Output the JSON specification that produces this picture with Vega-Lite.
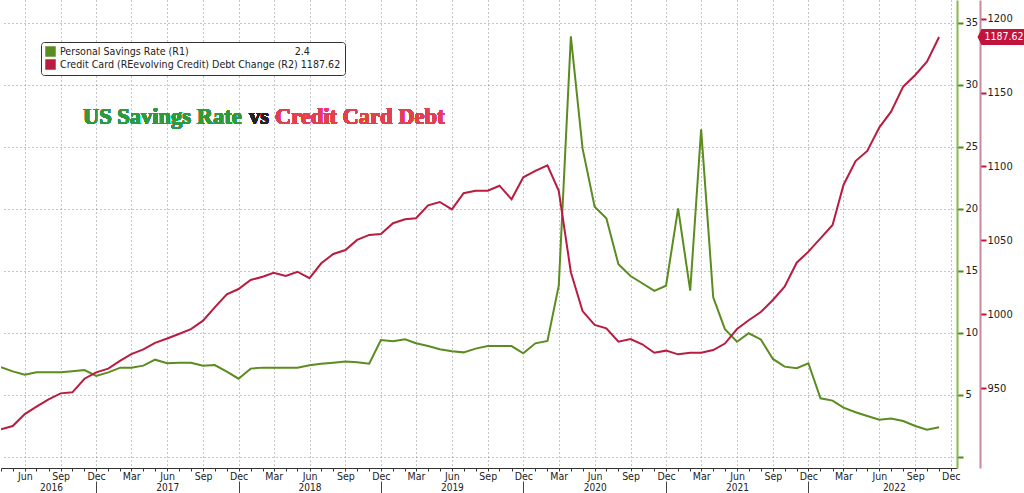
{
  "$schema": "https://vega.github.io/schema/vega-lite/v6.json",
  "width": 956,
  "height": 468,
  "padding": 0,
  "background": "white",
  "config": {
    "view": {"stroke": null},
    "font": "DejaVu Sans Condensed, DejaVu Sans",
    "axis": {"labelFont": "DejaVu Sans Condensed, DejaVu Sans", "labelColor": "#222", "labelFontSize": 11}
  },
  "data": {
    "values": [
      {"date": "2016-04-01", "rate": 7.23, "credit": 922.2},
      {"date": "2016-05-01", "rate": 6.9, "credit": 924.4},
      {"date": "2016-06-01", "rate": 6.63, "credit": 932.5},
      {"date": "2016-07-01", "rate": 6.82, "credit": 937.5},
      {"date": "2016-08-01", "rate": 6.82, "credit": 942.5},
      {"date": "2016-09-01", "rate": 6.82, "credit": 946.5},
      {"date": "2016-10-01", "rate": 6.9, "credit": 947.2},
      {"date": "2016-11-01", "rate": 7.0, "credit": 956.4},
      {"date": "2016-12-01", "rate": 6.53, "credit": 960.7},
      {"date": "2017-01-01", "rate": 6.82, "credit": 963.2},
      {"date": "2017-02-01", "rate": 7.2, "credit": 968.6},
      {"date": "2017-03-01", "rate": 7.2, "credit": 973.1},
      {"date": "2017-04-01", "rate": 7.36, "credit": 976.3},
      {"date": "2017-05-01", "rate": 7.84, "credit": 980.7},
      {"date": "2017-06-01", "rate": 7.55, "credit": 983.6},
      {"date": "2017-07-01", "rate": 7.6, "credit": 986.7},
      {"date": "2017-08-01", "rate": 7.6, "credit": 990.0},
      {"date": "2017-09-01", "rate": 7.36, "credit": 995.7},
      {"date": "2017-10-01", "rate": 7.41, "credit": 1004.7},
      {"date": "2017-11-01", "rate": 6.88, "credit": 1013.5},
      {"date": "2017-12-01", "rate": 6.31, "credit": 1017.1},
      {"date": "2018-01-01", "rate": 7.12, "credit": 1023.2},
      {"date": "2018-02-01", "rate": 7.2, "credit": 1025.4},
      {"date": "2018-03-01", "rate": 7.2, "credit": 1028.1},
      {"date": "2018-04-01", "rate": 7.2, "credit": 1025.9},
      {"date": "2018-05-01", "rate": 7.2, "credit": 1028.8},
      {"date": "2018-06-01", "rate": 7.39, "credit": 1024.4},
      {"date": "2018-07-01", "rate": 7.52, "credit": 1034.5},
      {"date": "2018-08-01", "rate": 7.6, "credit": 1040.8},
      {"date": "2018-09-01", "rate": 7.7, "credit": 1043.5},
      {"date": "2018-10-01", "rate": 7.63, "credit": 1050.3},
      {"date": "2018-11-01", "rate": 7.52, "credit": 1053.7},
      {"date": "2018-12-01", "rate": 9.43, "credit": 1054.3},
      {"date": "2019-01-01", "rate": 9.32, "credit": 1061.6},
      {"date": "2019-02-01", "rate": 9.48, "credit": 1064.3},
      {"date": "2019-03-01", "rate": 9.16, "credit": 1065.0},
      {"date": "2019-04-01", "rate": 8.94, "credit": 1073.7},
      {"date": "2019-05-01", "rate": 8.68, "credit": 1076.0},
      {"date": "2019-06-01", "rate": 8.52, "credit": 1071.0},
      {"date": "2019-07-01", "rate": 8.43, "credit": 1081.9},
      {"date": "2019-08-01", "rate": 8.73, "credit": 1083.6},
      {"date": "2019-09-01", "rate": 8.94, "credit": 1083.6},
      {"date": "2019-10-01", "rate": 8.94, "credit": 1087.0},
      {"date": "2019-11-01", "rate": 8.94, "credit": 1077.8},
      {"date": "2019-12-01", "rate": 8.35, "credit": 1092.7},
      {"date": "2020-01-01", "rate": 9.16, "credit": 1097.0},
      {"date": "2020-02-01", "rate": 9.35, "credit": 1100.8},
      {"date": "2020-03-01", "rate": 13.8, "credit": 1083.6},
      {"date": "2020-04-01", "rate": 33.9, "credit": 1028.5},
      {"date": "2020-05-01", "rate": 24.87, "credit": 1002.2},
      {"date": "2020-06-01", "rate": 20.17, "credit": 992.8},
      {"date": "2020-07-01", "rate": 19.23, "credit": 990.5},
      {"date": "2020-08-01", "rate": 15.53, "credit": 981.5},
      {"date": "2020-09-01", "rate": 14.58, "credit": 983.3},
      {"date": "2020-10-01", "rate": 14.0, "credit": 979.7},
      {"date": "2020-11-01", "rate": 13.38, "credit": 974.0},
      {"date": "2020-12-01", "rate": 13.8, "credit": 975.4},
      {"date": "2021-01-01", "rate": 20.04, "credit": 972.9},
      {"date": "2021-02-01", "rate": 13.4, "credit": 974.0},
      {"date": "2021-03-01", "rate": 26.4, "credit": 974.0},
      {"date": "2021-04-01", "rate": 12.87, "credit": 975.8},
      {"date": "2021-05-01", "rate": 10.3, "credit": 980.2},
      {"date": "2021-06-01", "rate": 9.29, "credit": 990.0},
      {"date": "2021-07-01", "rate": 9.97, "credit": 996.0},
      {"date": "2021-08-01", "rate": 9.47, "credit": 1001.5},
      {"date": "2021-09-01", "rate": 7.9, "credit": 1009.7},
      {"date": "2021-10-01", "rate": 7.28, "credit": 1018.7},
      {"date": "2021-11-01", "rate": 7.15, "credit": 1034.9},
      {"date": "2021-12-01", "rate": 7.55, "credit": 1042.4},
      {"date": "2022-01-01", "rate": 4.73, "credit": 1051.4},
      {"date": "2022-02-01", "rate": 4.54, "credit": 1060.4},
      {"date": "2022-03-01", "rate": 3.97, "credit": 1087.5},
      {"date": "2022-04-01", "rate": 3.6, "credit": 1103.7},
      {"date": "2022-05-01", "rate": 3.3, "credit": 1110.5},
      {"date": "2022-06-01", "rate": 3.0, "credit": 1126.5},
      {"date": "2022-07-01", "rate": 3.1, "credit": 1137.1},
      {"date": "2022-08-01", "rate": 2.9, "credit": 1154.0},
      {"date": "2022-09-01", "rate": 2.5, "credit": 1161.9},
      {"date": "2022-10-01", "rate": 2.2, "credit": 1170.9},
      {"date": "2022-11-01", "rate": 2.4, "credit": 1187.62}
    ]
  },
  "layer": [
    {
      "mark": {"type": "line", "strokeWidth": 2, "clip": true},
      "encoding": {
        "x": {
          "field": "date", "type": "temporal",
          "scale": {"type": "utc", "domain": [{"year": 2016, "month": 4, "date": 1, "utc": true}, {"year": 2022, "month": 12, "date": 17, "utc": true}]},
          "axis": {
            "orient": "bottom",
            "title": null,
            "tickCount": {"interval": "month", "step": 1},
            "labelExpr": "utcmonth(datum.value) % 3 == 2 ? utcFormat(datum.value, '%b') : ''",
            "labelOverlap": false,
            "labelFlush": false,
            "labelFontSize": 10.5,
            "labelPadding": 0,
            "tickSize": 3,
            "tickColor": "#333",
            "domainColor": "#333",
            "grid": true,
            "gridDash": [1, 3],
            "gridColor": "#8a8a8a",
            "gridOpacity": {"condition": {"test": "utcmonth(datum.value) % 3 == 2", "value": 1}, "value": 0}
          }
        },
        "y": {
          "field": "rate", "type": "quantitative",
          "scale": {"domain": [-0.89, 36.83], "nice": false, "zero": false},
          "axis": {
            "title": null, "orient": "right",
            "values": [0, 5, 10, 15, 20, 25, 30, 35],
            "labelExpr": "datum.value == 0 ? '' : datum.label",
            "grid": true, "gridDash": [1, 3], "gridColor": "#8a8a8a",
            "domainColor": "#8ab84a", "domainWidth": 2,
            "tickColor": "#4f8a1a", "tickWidth": 2, "tickSize": 6,
            "labelPadding": 2
          }
        },
        "color": {
          "datum": "Personal Savings Rate (R1)",
          "scale": {"domain": ["Personal Savings Rate (R1)", "Credit Card (REevolving Credit) Debt Change (R2)"], "range": ["#5a8c1f", "#b81c40"]},
          "legend": {
            "orient": "none", "legendX": 40, "legendY": 42,
            "title": null, "symbolType": "square", "symbolSize": 110, "symbolStrokeWidth": 0,
            "labelFontSize": 10.6, "labelColor": "#222", "labelLimit": 400,
            "strokeColor": "#333", "fillColor": "white", "padding": 4, "cornerRadius": 3, "rowPadding": 1,
            "labelExpr": "datum.label == 'Personal Savings Rate (R1)' ? datum.label + '\u00a0\u00a0\u00a0\u00a0\u00a0\u00a0\u00a0\u00a0\u00a0\u00a0\u00a0\u00a0\u00a0\u00a0\u00a0\u00a0\u00a0\u00a0\u00a0\u00a0\u00a0\u00a0\u00a0\u00a0\u00a0\u00a0\u00a0\u00a0\u00a0\u00a0\u00a0\u00a0\u00a0\u00a0\u00a02.4' : datum.label + '\u00a01187.62'",
            "encode": {"symbols": {"update": {"fill": {"scale": "color", "field": "value"}, "stroke": {"value": "transparent"}, "opacity": {"value": 1}}}}
          }
        }
      }
    },
    {
      "mark": {"type": "line", "strokeWidth": 2, "clip": true},
      "encoding": {
        "x": {
          "field": "date", "type": "temporal",
          "axis": {
            "orient": "bottom",
            "title": null,
            "values": [{"year": 2016, "month": 8, "date": 7, "utc": true}, {"year": 2017, "month": 6, "date": 1, "utc": true}, {"year": 2018, "month": 6, "date": 1, "utc": true}, {"year": 2019, "month": 6, "date": 1, "utc": true}, {"year": 2020, "month": 6, "date": 1, "utc": true}, {"year": 2021, "month": 6, "date": 1, "utc": true}, {"year": 2022, "month": 7, "date": 8, "utc": true}],
            "labelExpr": "utcFormat(datum.value, '%Y')",
            "ticks": false, "domain": false, "grid": false,
            "labelFontSize": 10,
            "labelPadding": 14.5, "labelOverlap": false, "labelFlush": false
          }
        },
        "y": {
          "field": "credit", "type": "quantitative",
          "scale": {"domain": [896, 1212.65], "nice": false, "zero": false},
          "axis": {
            "title": null, "orient": "right", "offset": 23,
            "values": [950, 1000, 1050, 1100, 1150, 1200],
            "format": "d",
            "grid": false,
            "domainColor": "#c98aa0", "domainWidth": 2,
            "tickColor": "#c0143c", "tickWidth": 2, "tickSize": 6,
            "labelPadding": 1
          }
        },
        "color": {"datum": "Credit Card (REevolving Credit) Debt Change (R2)"}
      }
    },
    {
      "transform": [{"filter": "datum.credit == 1187.62"}],
      "mark": {"type": "point", "filled": true, "color": "#c0143c", "opacity": 1, "size": 2025, "shape": "M -1.18 0 L -1 -0.36 L 1 -0.36 L 1 0.36 L -1 0.36 Z", "xOffset": 65},
      "encoding": {
        "x": {
          "field": "date", "type": "temporal",
          "axis": {
            "orient": "bottom",
            "title": null,
            "values": [{"year": 2016, "month": 12, "date": 1, "utc": true}, {"year": 2017, "month": 12, "date": 1, "utc": true}, {"year": 2018, "month": 12, "date": 1, "utc": true}, {"year": 2019, "month": 12, "date": 1, "utc": true}, {"year": 2020, "month": 12, "date": 1, "utc": true}, {"year": 2021, "month": 12, "date": 1, "utc": true}],
            "labels": false, "domain": false, "grid": false,
            "ticks": true, "tickSize": 12, "tickColor": "#444", "offset": 13
          }
        },
        "y": {"field": "credit", "type": "quantitative", "scale": {"domain": [896, 1212.65], "nice": false, "zero": false}, "axis": null}
      }
    },
    {
      "transform": [{"filter": "datum.credit == 1187.62"}],
      "mark": {"type": "text", "color": "white", "fontSize": 10.5, "dx": 65, "align": "center", "baseline": "middle", "font": "DejaVu Sans Condensed, DejaVu Sans"},
      "encoding": {
        "x": {"field": "date", "type": "temporal", "axis": null},
        "y": {"field": "credit", "type": "quantitative", "scale": {"domain": [896, 1212.65], "nice": false, "zero": false}, "axis": null},
        "text": {"field": "credit", "type": "quantitative", "format": ".2f"}
      }
    },
    {
      "mark": {"type": "text", "text": "US Savings Rate", "color": "#2f9a3c", "font": "Liberation Serif", "fontWeight": "bold", "fontSize": 22.5, "align": "left", "baseline": "middle"},
      "encoding": {
        "x": {"datum": {"year": 2016, "month": 10, "date": 28, "utc": true}, "type": "temporal", "axis": null},
        "y": {"datum": 27.4, "type": "quantitative", "scale": {"domain": [-0.89, 36.83], "nice": false, "zero": false}, "axis": null}
      }
    },
    {
      "mark": {"type": "text", "text": "vs", "color": "#222", "font": "Liberation Serif", "fontWeight": "bold", "fontSize": 22.5, "align": "left", "baseline": "middle", "dx": 166},
      "encoding": {
        "x": {"datum": {"year": 2016, "month": 10, "date": 28, "utc": true}, "type": "temporal", "axis": null},
        "y": {"datum": 27.4, "type": "quantitative", "scale": {"domain": [-0.89, 36.83], "nice": false, "zero": false}, "axis": null}
      }
    },
    {
      "mark": {"type": "text", "text": "Credit Card Debt", "color": "#e2404e", "font": "Liberation Serif", "fontWeight": "bold", "fontSize": 22.5, "align": "left", "baseline": "middle", "dx": 192},
      "encoding": {
        "x": {"datum": {"year": 2016, "month": 10, "date": 28, "utc": true}, "type": "temporal", "axis": null},
        "y": {"datum": 27.4, "type": "quantitative", "scale": {"domain": [-0.89, 36.83], "nice": false, "zero": false}, "axis": null}
      }
    }
  ],
  "resolve": {"scale": {"y": "independent", "x": "shared", "color": "shared"}, "axis": {"x": "independent", "y": "independent"}}
}
